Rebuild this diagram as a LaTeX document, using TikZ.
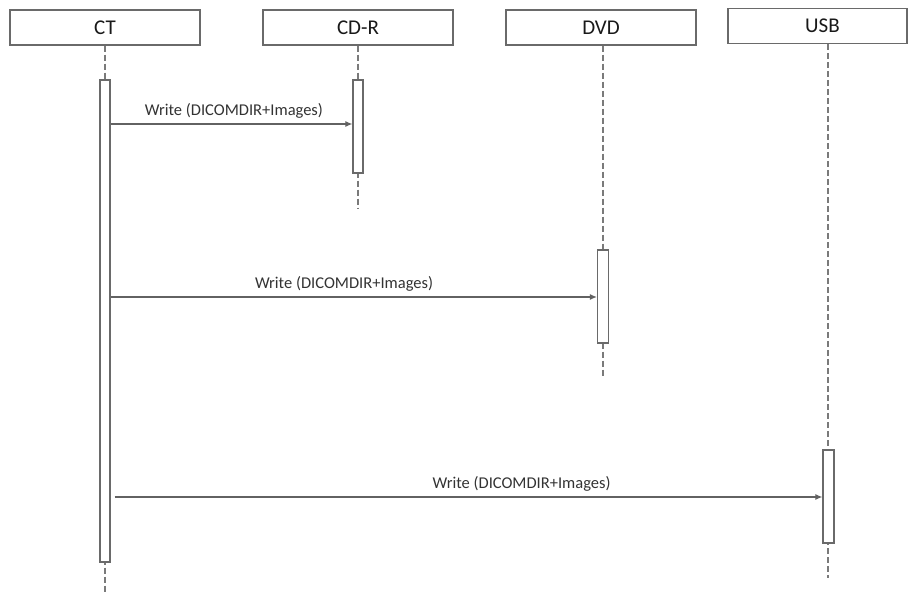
\documentclass[tikz,border=0pt]{standalone}
\usepackage{fontspec}
\setmainfont{Carlito}
\usepackage{tikz}
\usetikzlibrary{arrows.meta,calc,positioning}

\definecolor{linegray}{HTML}{7A7A7A}
\definecolor{boxgray}{HTML}{6A6A6A}
\definecolor{textgray}{HTML}{333333}

\tikzset{
    headbox/.style={draw=boxgray, line width=1.1pt, fill=white, minimum width=190pt, minimum height=35pt, inner sep=0pt, font=\fontsize{21}{23}\selectfont, text=black!90},
    actbox/.style={draw=boxgray, line width=1.2pt, fill=white, minimum width=10pt, inner sep=0pt},
    lifeline/.style={draw=linegray, line width=1.1pt, dashed, dash pattern=on 6pt off 3pt},
    msg/.style={draw=linegray!80!black, line width=1.1pt, -{Latex[length=7pt,width=6pt]}},
    msglabel/.style={font=\fontsize{16.5}{18}\selectfont, text=textgray}
}

\begin{document}
\begin{tikzpicture}[x=1pt, y=-1pt]
        \useasboundingbox (0,0) rectangle (909,593);

        \coordinate (endct) at (105, 593);
        \coordinate (endcdr) at (358, 208);
        \coordinate (enddvd) at (603, 378);
        \coordinate (endusb) at (828, 578);
        \coordinate (m1) at (0, 124);
        \coordinate (m2) at (0, 297);
        \coordinate (m3) at (0, 497);

        \node[headbox] (ct) at (105, 27.5) {CT};
        \node[headbox] (cdr) at (358, 27.5) {CD-R};
        \node[headbox] (dvd) at (601, 27.5) {DVD};
        \node[headbox, minimum width=179pt] (usb) at (817.5, 26) {\hspace*{10pt}USB};

        \draw[lifeline] (ct.south) -- (endct);
        \draw[lifeline] (cdr.south) -- (endcdr);
        \draw[lifeline] (dvd.south -| enddvd) -- (enddvd);
        \draw[lifeline] (usb.south -| endusb) -- (endusb);

        \node[actbox, minimum height=482pt] (actct) at (105, 321) {};
        \node[actbox, minimum height=93pt] (actcdr) at (358, 126.5) {};
        \node[actbox, minimum width=11pt, minimum height=93pt] (actdvd) at (603, 296.5) {};
        \node[actbox, minimum width=11pt, minimum height=93pt] (actusb) at (828.5, 496.5) {};

        \draw[msg] (actct.east |- m1) -- node[msglabel, above=2pt, pos=0.51] (lbl1) {Write (DICOMDIR+Images)} (actcdr.west |- m1);
        \draw[msg] (actct.east |- m2) -- node[msglabel, above=2pt, pos=0.48] (lbl2) {Write (DICOMDIR+Images)} (actdvd.west |- m2);
        \draw[msg] ($(actct.east |- m3)+(4,0)$) -- node[msglabel, above=2pt, pos=0.575] (lbl3) {Write (DICOMDIR+Images)} (actusb.west |- m3);
    \end{tikzpicture}
\end{document}
